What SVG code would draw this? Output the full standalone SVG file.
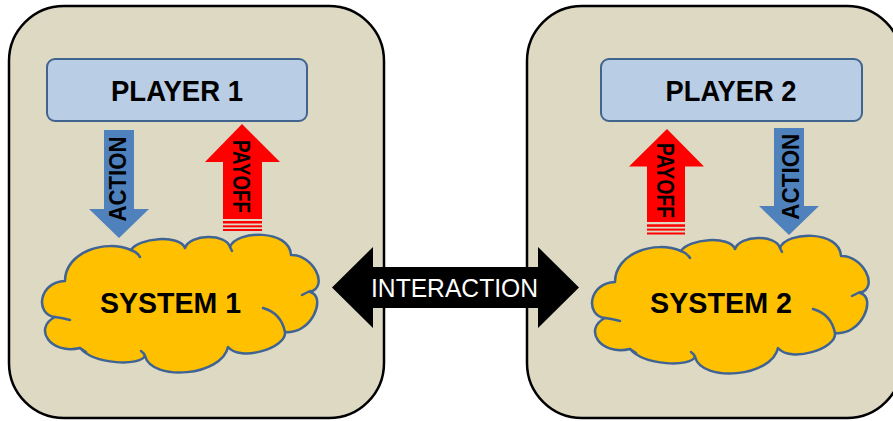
<svg xmlns="http://www.w3.org/2000/svg" xmlns:xlink="http://www.w3.org/1999/xlink" width="893" height="421" viewBox="0 0 893 421">
  <style>
    .panel { fill: #DDD9C3; stroke: #000000; stroke-width: 2.5; }
    .player { fill: #B9CDE5; stroke: #41648F; stroke-width: 2; }
    .cloud { fill: #FFC000; stroke: #3F6493; stroke-width: 2.5; stroke-linejoin: round; }
    .cloud-inner { fill: none; stroke: #3F6493; stroke-width: 2.5; stroke-linecap: round; }
    .action { fill: #4F81BD; }
    .payoff { fill: #FF0000; }
    .interaction { fill: #000000; }
    .bold { font-family: "Liberation Sans", Arial, sans-serif; font-weight: bold; fill: #000000; text-anchor: middle; }
    .label { font-family: "Liberation Sans", Arial, sans-serif; fill: #FFFFFF; text-anchor: middle; }
  </style>
  <defs>
    <!-- cloud outline with its inner bump strokes -->
    <g id="cloud">
      <path class="cloud" d="M65,281 C65,252 105,239 131,250 C138,238 180,234 185,248 C190,234 226,233 230,247 C236,230 290,229 291,255 C312,254 330,286 310,292 C327,296 312,335 285,332 C287,348 240,362 228,347 C222,376 152,382 145,356 C140,366 95,365 80,348 C50,355 33,328 55,317 C35,315 38,282 65,281 Z"/>
      <path class="cloud-inner" d="M55,317 Q63,318 70,320 M131,250 Q137,252 140,257 M230,247 Q231,249 232,251 M310,291 Q306,293 302,295 M263,308 Q281,313 285,332 M145,356 Q144,353 141,351 M80,348 Q83,350 86,352"/>
    </g>
  </defs>

  <rect width="893" height="421" fill="#FFFFFF"/>

  <!-- panels -->
  <g id="panel-1"><rect class="panel" x="9" y="6" width="375" height="412" rx="55" ry="55"/></g>
  <g id="panel-2"><rect class="panel" x="527" y="6" width="375" height="412" rx="55" ry="55"/></g>

  <!-- players -->
  <g id="player-1">
    <rect class="player" x="47" y="59" width="260" height="62" rx="8" ry="8"/>
    <text class="bold" x="177" y="101" font-size="29" textLength="132" lengthAdjust="spacingAndGlyphs">PLAYER 1</text>
  </g>
  <g id="player-2">
    <rect class="player" x="601" y="59" width="261" height="62" rx="8" ry="8"/>
    <text class="bold" x="731" y="101" font-size="29" textLength="131" lengthAdjust="spacingAndGlyphs">PLAYER 2</text>
  </g>

  <!-- systems -->
  <g id="system-1">
    <use xlink:href="#cloud" href="#cloud"/>
    <text class="bold" x="170.5" y="313" font-size="30" textLength="141" lengthAdjust="spacingAndGlyphs">SYSTEM 1</text>
  </g>
  <g id="system-2">
    <use xlink:href="#cloud" href="#cloud" transform="translate(550,1)"/>
    <text class="bold" x="721" y="313" font-size="30" textLength="142" lengthAdjust="spacingAndGlyphs">SYSTEM 2</text>
  </g>

  <!-- connectors -->
  <g id="connectors">
    <g id="action-1">
      <polygon class="action" points="104,130 134,130 134,209 149,209 119,238 89,209 104,209"/>
      <text class="bold" font-size="23" textLength="85" lengthAdjust="spacingAndGlyphs" transform="translate(126,179) rotate(-90)">ACTION</text>
    </g>
    <g id="payoff-1">
      <polygon class="payoff" points="223,219 223,162 205,162 242,124 280,162 262,162 262,219"/>
      <rect class="payoff" x="223" y="221" width="39" height="2.5"/>
      <rect class="payoff" x="223" y="225.3" width="39" height="2"/>
      <rect class="payoff" x="223" y="229" width="39" height="2"/>
      <text class="bold" font-size="23" textLength="73" lengthAdjust="spacingAndGlyphs" transform="translate(233,176.5) rotate(90)">PAYOFF</text>
    </g>
    <g id="payoff-2">
      <polygon class="payoff" points="647,222 647,166.5 629,166.5 667,129 704,166.5 685,166.5 685,222"/>
      <rect class="payoff" x="647" y="224.3" width="38" height="2.5"/>
      <rect class="payoff" x="647" y="228.6" width="38" height="2"/>
      <rect class="payoff" x="647" y="232.5" width="38" height="2"/>
      <text class="bold" font-size="23" textLength="75" lengthAdjust="spacingAndGlyphs" transform="translate(657,180.5) rotate(90)">PAYOFF</text>
    </g>
    <g id="action-2">
      <polygon class="action" points="774,128 804,128 804,206 819,206 789,235 759,206 774,206"/>
      <text class="bold" font-size="23" textLength="86" lengthAdjust="spacingAndGlyphs" transform="translate(799,176.7) rotate(-90)">ACTION</text>
    </g>
    <g id="interaction">
      <polygon class="interaction" points="332,287.5 373,247 373,267 538,267 538,247 579,287.5 538,328 538,308 373,308 373,328"/>
      <text class="label" x="454.5" y="297" font-size="26.5" textLength="167" lengthAdjust="spacingAndGlyphs">INTERACTION</text>
    </g>
  </g>
</svg>
